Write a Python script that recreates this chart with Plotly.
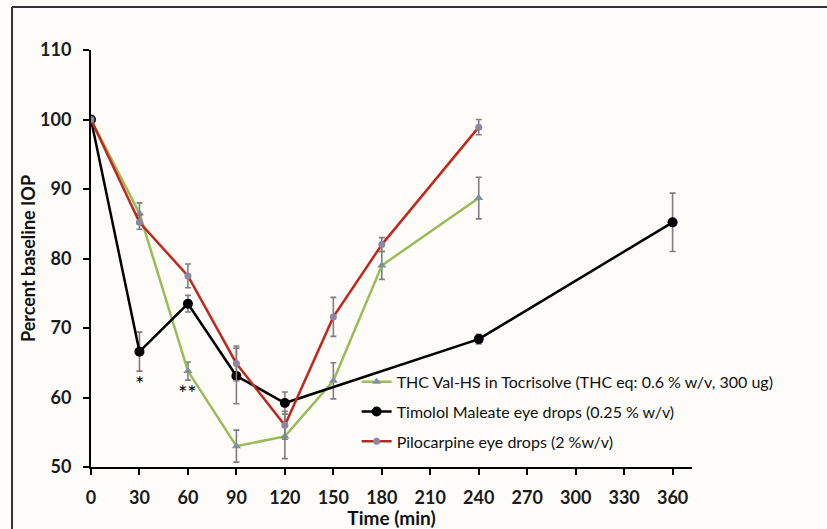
import plotly.graph_objects as go

# Data
thc_time = [0, 30, 60, 90, 120, 150, 180, 240]
thc_val = [100, 86.5, 63.8, 53.0, 54.4, 62.4, 79.0, 88.7]
thc_err = [0, 1.5, 1.3, 2.3, 3.2, 2.6, 2.0, 3.0]

tim_time = [0, 30, 60, 90, 120, 240, 360]
tim_val = [100, 66.6, 73.5, 63.1, 59.2, 68.4, 85.2]
tim_err = [0, 2.8, 1.2, 4.0, 1.6, 0.7, 4.2]

pil_time = [0, 30, 60, 90, 120, 150, 180, 240]
pil_val = [100, 85.2, 77.5, 64.9, 56.0, 71.6, 82.0, 98.9]
pil_err = [0, 1.0, 1.7, 2.5, 2.0, 2.8, 1.0, 1.1]

x_ticks = list(range(0, 361, 30))
y_ticks = list(range(50, 111, 10))

names = [
    "THC Val-HS in Tocrisolve (THC eq: 0.6 % w/v, 300 ug)",
    "Timolol Maleate eye drops (0.25 % w/v)",
    "Pilocarpine eye drops (2 %w/v)",
]

err_style = dict(type="data", color="#7f7f7f", thickness=1.6, width=3, visible=True)

fig = go.Figure()
fig.add_trace(go.Scatter(
    x=thc_time, y=thc_val, name=names[0], mode="lines+markers", legendgroup="a",
    line=dict(color="#9bbb59", width=2.5),
    marker=dict(symbol="triangle-up", size=8, color="#7f8fa0"),
    error_y=dict(array=thc_err, **err_style),
))
fig.add_trace(go.Scatter(
    x=tim_time, y=tim_val, name=names[1], mode="lines+markers", legendgroup="b",
    line=dict(color="#000000", width=2.5),
    marker=dict(symbol="circle", size=10, color="#000000"),
    error_y=dict(array=tim_err, **err_style),
))
fig.add_trace(go.Scatter(
    x=pil_time, y=pil_val, name=names[2], mode="lines+markers", legendgroup="c",
    line=dict(color="#c0281e", width=2.5),
    marker=dict(symbol="circle", size=7, color="#8e86a0"),
    error_y=dict(array=pil_err, **err_style),
))

fig.add_annotation(x=30, y=62.0, text="*", showarrow=False, font=dict(size=22, color="#000000"))
fig.add_annotation(x=60, y=60.7, text="**", showarrow=False, font=dict(size=22, color="#000000"))

# frame lines (top and left)
fig.add_shape(type="line", xref="paper", yref="paper", x0=-0.1314, x1=1.23, y0=1.103, y1=1.103,
              line=dict(color="#333", width=2))
fig.add_shape(type="line", xref="paper", yref="paper", x0=-0.1314, x1=-0.1314, y0=1.103, y1=-0.2,
              line=dict(color="#333", width=2))

fig.update_layout(
    width=827, height=529,
    margin=dict(l=91, r=135, t=50, b=62),
    paper_bgcolor="#fdfcf8", plot_bgcolor="#fdfcf8",
    font=dict(family="Lato", size=16, color="#111111"),
    showlegend=True,
    legend=dict(x=0.442, y=0.245, xanchor="left", yanchor="top",
                bgcolor="rgba(0,0,0,0)", font=dict(size=16, family="Lato", color="#111111"),
                itemwidth=30, traceorder="grouped", tracegroupgap=6),
    xaxis=dict(range=[0, 372], tickmode="array", tickvals=x_ticks, showgrid=False, zeroline=False,
               showline=True, linecolor="#000", linewidth=2, ticks="outside", ticklen=6,
               tickcolor="#000", tickwidth=2, automargin=False, ticklabelstandoff=7,
               tickfont=dict(family="Lato", size=18, color="#1a1a1a", weight="bold"),
               title=dict(text="<b>Time (min)</b>", standoff=0, font=dict(size=19))),
    yaxis=dict(range=[50, 110], tickmode="array", tickvals=y_ticks, showgrid=False, zeroline=False,
               showline=True, linecolor="#000", linewidth=2, ticks="outside", ticklen=6,
               tickcolor="#000", tickwidth=2, automargin=False, ticklabelstandoff=8,
               tickfont=dict(family="Lato", size=18, color="#1a1a1a", weight="bold"),
               title=dict(text="<b>Percent baseline IOP</b>", standoff=0, font=dict(size=18))),
)

fig.write_html("out.html", config={"displayModeBar": False},
               post_script="document.body.style.margin='0';")
